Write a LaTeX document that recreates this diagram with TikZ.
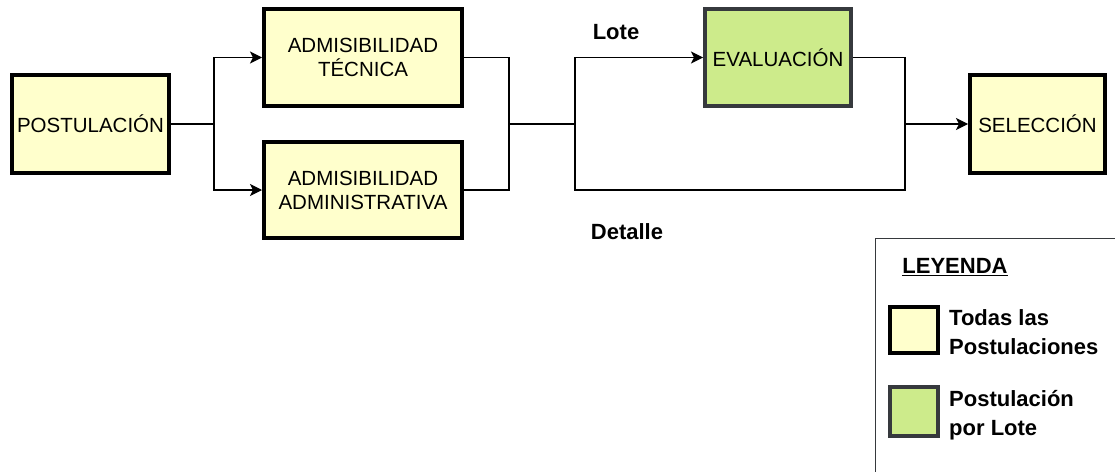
\documentclass[tikz,border=0pt]{standalone}
\usepackage{fontspec}
\setmainfont{Liberation Sans}
\usetikzlibrary{arrows.meta}
\definecolor{yel}{HTML}{FFFFCC}
\definecolor{grn}{HTML}{CDEB8B}
\definecolor{dgray}{HTML}{36393D}
\begin{document}
\begin{tikzpicture}[x=1pt,y=-1pt,
  ybox/.style={draw=black,line width=4pt,fill=yel,inner sep=0pt,align=center,font=\fontsize{20.5}{24}\selectfont},
  gbox/.style={draw=dgray,line width=4pt,fill=grn,inner sep=0pt,align=center,font=\fontsize{20.5}{24}\selectfont},
  conn/.style={line width=1.3pt},
  arr/.style={conn,-{Stealth[length=12pt,width=12pt,inset=3pt]}},
  lbl/.style={font=\bfseries\fontsize{22}{26}\selectfont,inner sep=0pt},
  legtxt/.style={font=\bfseries\fontsize{22}{28.5}\selectfont,align=left,inner sep=0pt,anchor=west}]
\useasboundingbox (0,0) rectangle (1115,471);
\fill[white] (0,0) rectangle (1115,471);
% boxes
\node[ybox,minimum width=157pt,minimum height=98pt] (post) at (90.5,124) {POSTULACIÓN};
\node[ybox,minimum width=198pt,minimum height=97pt] (tec) at (363,57.5) {ADMISIBILIDAD\\TÉCNICA};
\node[ybox,minimum width=198pt,minimum height=96pt] (adm) at (363,190) {ADMISIBILIDAD\\ADMINISTRATIVA};
\node[gbox,minimum width=146pt,minimum height=97pt] (eval) at (778,57.5) {EVALUACIÓN};
\node[ybox,minimum width=135pt,minimum height=98pt] (sel) at (1037.5,124) {SELECCIÓN};
% junctions
\coordinate (j1) at (214,124);
\coordinate (j2) at (509,124);
\coordinate (j3) at (575,124);
\coordinate (j4) at (905,124);
\coordinate (b4) at (905,190);
% connectors
\draw[conn] (post.east) -- (j1);
\draw[arr] (j1) |- (tec.west);
\draw[arr] (j1) |- (adm.west);
\draw[conn] (tec.east) -| (j2);
\draw[conn] (adm.east) -| (j2);
\draw[conn] (j2) -- (j3);
\draw[arr] (j3) |- (eval.west);
\draw[conn] (j3) |- (b4) -- (j4);
\draw[conn] (eval.east) -| (j4);
\draw[arr] (j4) -- (sel.west);
% labels
\node[lbl] (lote) at (616,32) {Lote};
\node[lbl] (det) at (627,232) {Detalle};
% legend
\draw[line width=1pt,draw=dgray] (875,475) -- (875,238.5) -- (1120,238.5);
\node[lbl] (ley) at (955,267) {\underline{LEYENDA}};
\node[ybox,minimum width=48pt,minimum height=46pt] (sw1) at (914,330) {};
\node[gbox,minimum width=48pt,minimum height=49pt] (sw2) at (914,411.5) {};
\node[legtxt] (t1) at (949,332) {Todas las\\Postulaciones};
\node[legtxt] (t2) at (949,415) {Postulación\\por Lote};
\end{tikzpicture}
\end{document}
